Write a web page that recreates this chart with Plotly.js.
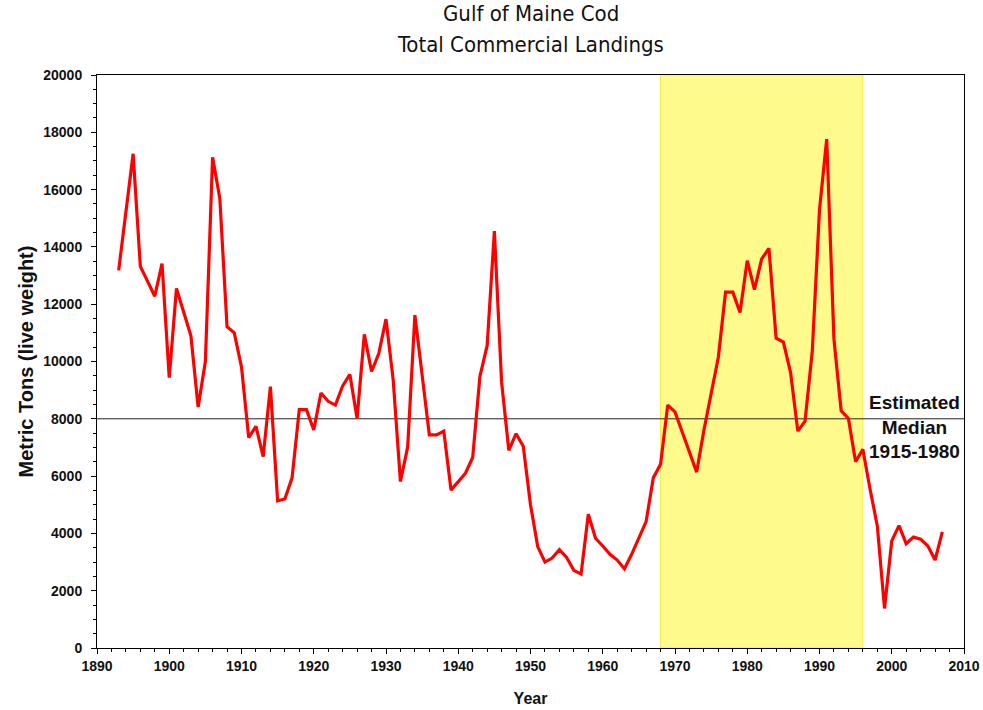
<!DOCTYPE html>
<html>
<head>
<meta charset="utf-8">
<script src="https://cdn.plot.ly/plotly-3.0.1.min.js"></script>
<style>html,body{margin:0;padding:0;background:#fff;}#chart{width:983px;height:710px;}</style>
</head>
<body>
<div id="chart"></div>
<script>
const years = [];
for (let y = 1893; y <= 2007; y++) years.push(y);
const landings = [
  13180, 15300, 17250, 13320, 12800, 12280, 13420,
  9440, 12550, 11750, 10900, 8410, 10000, 17130, 15690, 11210, 11000,
  9810, 7340, 7740, 6680, 9120, 5140, 5200, 5940, 8320, 8320,
  7610, 8900, 8610, 8480, 9150, 9550, 8010, 10950, 9650, 10280,
  11480, 9350, 5810, 7010, 11620, 9550, 7440, 7440, 7570, 5510,
  5810, 6100, 6650, 9480, 10550, 14550, 9280, 6900, 7480, 7040,
  5000, 3540, 3000, 3140, 3430, 3160, 2710, 2580, 4670, 3830,
  3560, 3270, 3070, 2760, 3270, 3830, 4410, 5940, 6410, 8480,
  8240, 7540, 6850, 6140, 7600, 8950, 10150, 12420, 12420, 11710,
  13520, 12510, 13580, 13950, 10810, 10680, 9610, 7570, 7920, 10350,
  15290, 17760, 10780, 8280, 8010, 6500, 6940, 5540, 4270, 1380,
  3740, 4270, 3640, 3870, 3800, 3560, 3070, 4050
];
const medianValue = 8000;
const shadedPeriod = [1968, 1996];
const titleLines = ["Gulf of Maine Cod", "Total Commercial Landings"];
const medianLabel = ["Estimated", "Median", "1915-1980"];

const boldFont = "Liberation Sans, Arial, Helvetica, sans-serif";
const titleFont = {family: "Liberation Sans Narrow, DejaVu Sans Condensed, Arial Narrow, Liberation Sans, sans-serif", size: 22, color: "#111"};

const trace = {
  x: years, y: landings, type: "scatter", mode: "lines",
  line: {color: "#ff0000", width: 3.2}, hoverinfo: "x+y", showlegend: false
};

const layout = {
  width: 983, height: 710,
  margin: {l: 97, r: 19, t: 75, b: 62},
  paper_bgcolor: "#ffffff", plot_bgcolor: "#ffffff",
  xaxis: {
    range: [1890, 2010], dtick: 10, tick0: 1890,
    showgrid: false, zeroline: false,
    showline: true, linecolor: "#000", linewidth: 1, mirror: true,
    ticks: "outside", ticklen: 5, tickcolor: "#000", tickwidth: 1,
    minor: {dtick: 2, ticks: "outside", ticklen: 3, tickcolor: "#000", showgrid: false},
    tickfont: {family: boldFont, size: 14, color: "#111", weight: "bold"},
    title: {text: "<b>Year</b>", font: {family: boldFont, size: 16, color: "#111"}, standoff: 20}
  },
  yaxis: {
    range: [0, 20000], dtick: 2000, tick0: 0, tickformat: "d",
    showgrid: false, zeroline: false,
    showline: true, linecolor: "#000", linewidth: 1, mirror: true,
    ticks: "outside", ticklen: 5, tickcolor: "#000", tickwidth: 1,
    ticklabelstandoff: 6,
    minor: {dtick: 500, ticks: "outside", ticklen: 3, tickcolor: "#000", showgrid: false},
    tickfont: {family: boldFont, size: 14, color: "#111", weight: "bold"},
    title: {text: "<b>Metric Tons (live weight)</b>", font: {family: boldFont, size: 20, color: "#111"}, standoff: 4}
  },
  shapes: [
    {type: "rect", xref: "x", yref: "y", x0: shadedPeriod[0], x1: shadedPeriod[1], y0: 0, y1: 20000,
     fillcolor: "#fffa8c", line: {color: "#f2ea40", width: 1}, layer: "below"},
    {type: "line", xref: "x", yref: "y", x0: 1890, x1: 2010, y0: medianValue, y1: medianValue,
     line: {color: "#222", width: 1}, layer: "below"}
  ],
  annotations: [
    {xref: "paper", yref: "paper", x: 0.5, y: 1.1065, xanchor: "center", yanchor: "middle",
     text: titleLines[0], showarrow: false, font: titleFont},
    {xref: "paper", yref: "paper", x: 0.5, y: 1.054, xanchor: "center", yanchor: "middle",
     text: titleLines[1], showarrow: false, font: titleFont},
    {xref: "x", yref: "y", x: 2003.1, y: 7700, xanchor: "center", yanchor: "middle",
     text: "<b>" + medianLabel.join("<br>") + "</b>", showarrow: false,
     font: {family: boldFont, size: 19, color: "#111"}}
  ]
};

Plotly.newPlot("chart", [trace], layout, {displayModeBar: false, staticPlot: true});
</script>
</body>
</html>
